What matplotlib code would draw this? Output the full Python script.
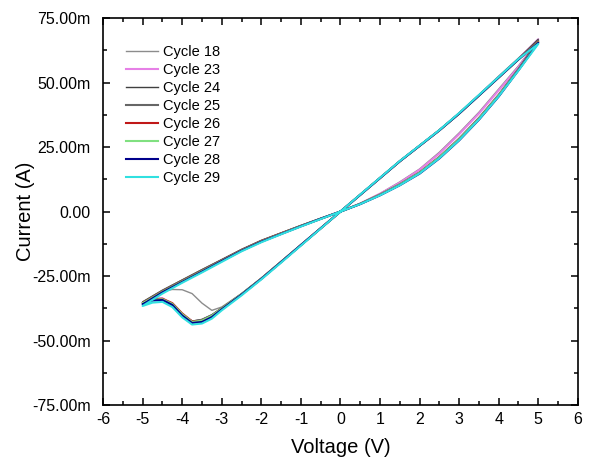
import matplotlib.pyplot as plt
from matplotlib.ticker import MultipleLocator, FuncFormatter

plt.rcParams['font.family'] = ['Liberation Sans', 'DejaVu Sans']

# sweep: 0 -> 5 -> 0 -> -5 -> 0 (V)
volt = [0, 0.5, 1, 1.5, 2, 2.5, 3, 3.5, 4, 4.5, 5,
        4.5, 4, 3.5, 3, 2.5, 2, 1.5, 1, 0.5, 0,
        -0.5, -1, -1.5, -2, -2.5, -3, -3.25, -3.5, -3.75, -4, -4.25, -4.5, -4.75, -5,
        -4.5, -4, -3.5, -3, -2.5, -2, -1.5, -1, -0.5, 0]

# current in mA
cur_18 = [0, 3.2, 7.0, 11.5, 16.5, 23.0, 30.5, 38.5, 47.5, 56.5, 66.5,
          59.5, 52.5, 45.2, 38.2, 31.6, 25.5, 19.5, 13.0, 6.5, 0,
          -6.5, -13.0, -19.4, -25.8, -31.8, -37.0, -38.3, -35.5, -31.8, -30.3, -30.2, -31.0, -33.0, -35.3,
          -30.8, -26.7, -22.8, -18.8, -14.9, -11.4, -8.4, -5.5, -2.7, 0]
cur_23 = [0, 3.1, 6.9, 11.2, 16.2, 22.5, 30.0, 38.0, 47.0, 56.0, 66.8,
          59.2, 52.2, 45.1, 38.1, 31.5, 25.5, 19.5, 13.0, 6.5, 0,
          -6.5, -13.0, -19.5, -26.0, -32.0, -37.6, -40.6, -42.3, -42.5, -39.8, -36.0, -33.6, -33.8, -35.4,
          -31.0, -27.0, -23.0, -19.0, -15.0, -11.5, -8.5, -5.6, -2.8, 0]
cur_24 = [0, 3.0, 6.5, 10.5, 15.0, 21.0, 28.0, 36.0, 45.0, 55.2, 66.8,
          59.3, 52.2, 45.0, 38.0, 31.5, 25.5, 19.5, 13.0, 6.5, 0,
          -6.5, -13.0, -19.5, -26.0, -32.0, -37.4, -40.0, -41.8, -42.5, -40.2, -36.5, -34.2, -34.0, -35.0,
          -30.5, -26.5, -22.5, -18.6, -14.7, -11.2, -8.3, -5.4, -2.7, 0]
cur_25 = [0, 3.0, 6.6, 10.6, 15.2, 21.2, 28.3, 36.3, 45.3, 55.3, 66.2,
          59.1, 52.1, 45.0, 38.0, 31.5, 25.5, 19.5, 13.0, 6.5, 0,
          -6.5, -13.0, -19.5, -26.0, -32.0, -37.5, -40.2, -42.0, -42.6, -40.0, -36.2, -34.0, -34.1, -35.3,
          -30.7, -26.7, -22.7, -18.8, -14.8, -11.3, -8.4, -5.5, -2.7, 0]
cur_26 = [0, 3.0, 6.5, 10.4, 15.0, 21.0, 28.0, 36.0, 45.0, 55.0, 65.8,
          59.0, 52.0, 45.0, 38.0, 31.5, 25.5, 19.5, 13.0, 6.5, 0,
          -6.5, -13.0, -19.5, -26.0, -32.1, -37.6, -40.5, -42.4, -42.6, -39.5, -35.5, -33.8, -34.0, -35.5,
          -31.0, -27.0, -23.0, -19.0, -15.0, -11.5, -8.5, -5.6, -2.8, 0]
cur_27 = [0, 3.0, 6.5, 10.5, 15.0, 21.0, 28.0, 36.0, 45.0, 55.0, 65.6,
          59.0, 52.0, 45.0, 38.0, 31.5, 25.5, 19.5, 13.0, 6.5, 0,
          -6.5, -13.0, -19.5, -26.0, -32.0, -37.6, -40.4, -42.3, -42.8, -39.8, -35.8, -34.0, -34.2, -35.6,
          -31.1, -27.1, -23.1, -19.1, -15.1, -11.6, -8.6, -5.6, -2.8, 0]
cur_28 = [0, 2.9, 6.3, 10.2, 14.7, 20.6, 27.6, 35.6, 44.6, 54.8, 65.4,
          59.0, 52.0, 45.0, 38.0, 31.5, 25.5, 19.5, 13.0, 6.5, 0,
          -6.5, -13.0, -19.6, -26.1, -32.2, -37.9, -40.9, -42.8, -43.2, -40.3, -36.2, -34.3, -34.5, -36.0,
          -31.3, -27.3, -23.3, -19.2, -15.2, -11.7, -8.7, -5.7, -2.8, 0]
cur_29 = [0, 2.9, 6.3, 10.2, 14.8, 20.7, 27.7, 35.7, 44.7, 54.7, 65.0,
          59.2, 52.2, 45.2, 38.2, 31.6, 25.6, 19.6, 13.1, 6.6, 0,
          -6.6, -13.2, -19.8, -26.3, -32.5, -38.3, -41.5, -43.4, -43.8, -41.0, -37.0, -35.0, -35.3, -36.6,
          -31.8, -27.6, -23.6, -19.5, -15.4, -11.9, -8.8, -5.8, -2.9, 0]

labels = ['Cycle 18', 'Cycle 23', 'Cycle 24', 'Cycle 25',
          'Cycle 26', 'Cycle 27', 'Cycle 28', 'Cycle 29']
currents = [cur_18, cur_23, cur_24, cur_25, cur_26, cur_27, cur_28, cur_29]
colors = ['#8c8c8c', '#e680e6', '#404040', '#666666',
          '#c01818', '#80e080', '#00008b', '#30e0e0']
widths = [1.0, 1.5, 1.0, 1.5, 1.5, 1.5, 1.5, 1.5]

fig = plt.figure(figsize=(5.89, 4.65), dpi=100)
ax = fig.add_axes([0.175, 0.129, 0.806, 0.832])

for cur, lab, c, lw in zip(currents, labels, colors, widths):
    ax.plot(volt, cur, color=c, lw=lw, label=lab)

ax.set_xlim(-6, 6)
ax.set_ylim(-75, 75)
ax.xaxis.set_major_locator(MultipleLocator(1))
ax.xaxis.set_minor_locator(MultipleLocator(0.5))
ax.yaxis.set_major_locator(MultipleLocator(25))
ax.yaxis.set_minor_locator(MultipleLocator(12.5))
ax.xaxis.set_major_formatter(FuncFormatter(lambda v, p: '%d' % round(v)))
ax.yaxis.set_major_formatter(FuncFormatter(
    lambda v, p: '0.00' if abs(v) < 1e-9 else '%.2fm' % v))
ax.tick_params(which='both', direction='in', top=True, right=True,
               labelsize=11.5, width=1.1)
ax.tick_params(which='major', length=5)
ax.tick_params(which='minor', length=3)
ax.tick_params(axis='y', pad=9)
ax.tick_params(axis='x', pad=5)
for s in ax.spines.values():
    s.set_linewidth(1.2)

ax.set_xlabel('Voltage (V)', fontsize=14.5, labelpad=8)
ax.set_ylabel('Current (A)', fontsize=14.5, labelpad=-2)

ax.legend(loc='upper left', bbox_to_anchor=(0.02, 0.965), frameon=False,
          fontsize=10.5, handlelength=2.2, handletextpad=0.35, labelspacing=0.28)

fig.savefig('out.png', dpi=100)
